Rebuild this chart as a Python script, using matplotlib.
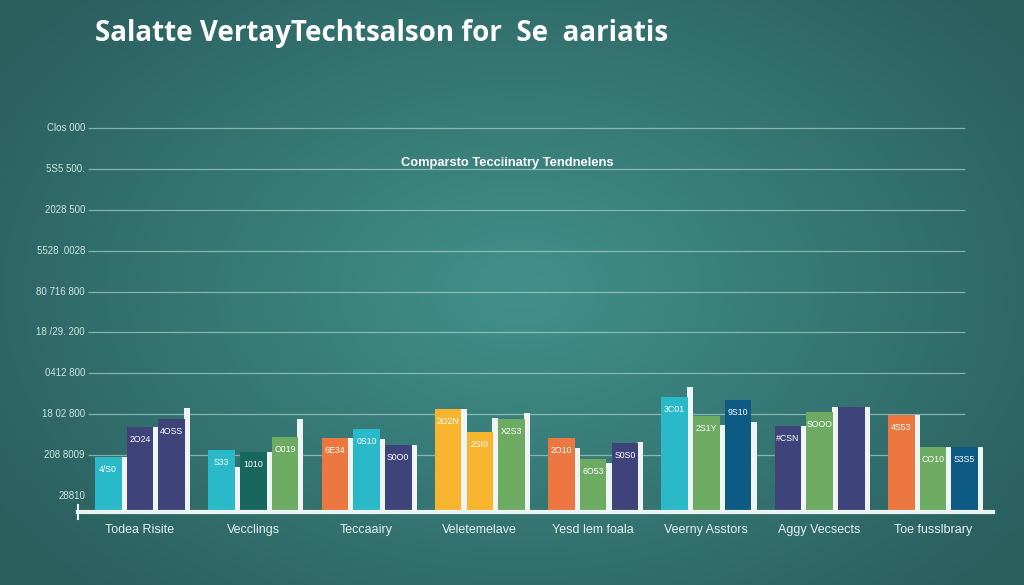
import numpy as np
import matplotlib
matplotlib.use("Agg")
import matplotlib.pyplot as plt
import matplotlib.transforms as mtransforms

# ---- data ----
title = "Salatte VertayTechtsalson for  Se  aariatis"
subtitle = "Comparsto Tecciinatry Tendnelens"
categories = ["Todea Risite", "Vecclings", "Teccaairy", "Veletemelave",
              "Yesd lem foala", "Veerny Asstors", "Aggy Vecsects", "Toe fusslbrary"]
ytick_vals = [400, 1400, 2400, 3400, 4400, 5400, 6400, 7400, 8400, 9400]
ytick_labels = ["28810", "208 8009", "18 02 800", "0412 800", "18 /29. 200",
                "80 716 800", "5528 .0028", "2028 500", "5S5 500.", "Clos 000"]

# three bars per group
bar_values = [
    [1350, 2080, 2280],
    [1520, 1470, 1840],
    [1810, 2030, 1640],
    [2520, 1960, 2280],
    [1810, 1300, 1690],
    [2820, 2350, 2750],
    [2110, 2450, 2570],
    [2380, 1590, 1590],
]
edge_values = [
    [1350, 2080, 2550],
    [1100, 1470, 2280],
    [1810, 1790, 1640],
    [2520, 2300, 2430],
    [1570, 1200, 1720],
    [3060, 2130, 2210],
    [2110, 2570, 2570],
    [2380, 1590, 1590],
]
bar_texts = [
    ["4/S0", "2O24", "4OSS"],
    ["S33", "1010", "O019"],
    ["6E34", "0S10", "S0O0"],
    ["2O2N", "2SI0", "X2S3"],
    ["2O10", "6O53", "S0S0"],
    ["3C01", "2S1Y", "9S10"],
    ["#CSN", "SOOO", ""],
    ["4S53", "CO10", "S3S5"],
]
CYAN, NAVY, TEAL, GREEN = "#29b9c9", "#3e4479", "#17675f", "#6dab62"
ORANGE, YELLOW, BLUE = "#ec7740", "#f7b52f", "#0d5a84"
bar_colors = [
    [CYAN, NAVY, NAVY],
    [CYAN, TEAL, GREEN],
    [ORANGE, CYAN, NAVY],
    [YELLOW, YELLOW, GREEN],
    [ORANGE, GREEN, NAVY],
    [CYAN, GREEN, BLUE],
    [NAVY, GREEN, NAVY],
    [ORANGE, GREEN, BLUE],
]

W, H = 1024, 585
fig = plt.figure(figsize=(W / 100, H / 100), dpi=100)

# background radial gradient
bg = fig.add_axes([0, 0, 1, 1])
yy, xx = np.mgrid[0:H, 0:W]
d = np.sqrt(((xx - 520) / 620.0) ** 2 + ((yy - 290) / 420.0) ** 2)
d = np.clip(d, 0, 1)
c_in = np.array([0x42, 0x90, 0x8b]) / 255
c_out = np.array([0x2a, 0x5f, 0x5e]) / 255
img = c_in[None, None, :] * (1 - d[..., None]) + c_out[None, None, :] * d[..., None]
bg.imshow(img, aspect="auto", extent=[0, 1, 0, 1])
bg.axis("off")

# main axes: x from px 78 to 993, y baseline at px 512, top px 120
ax = fig.add_axes([78 / W, (H - 512) / H, 915 / W, 392 / H])
ax.set_facecolor("none")
ax.set_xlim(-0.547, 7.53)
ax.set_ylim(0, 392 / 40.8 * 1000)
ax.axis("off")

trans = mtransforms.blended_transform_factory(ax.transAxes, ax.transData)
ax.hlines(ytick_vals[1:], 10 / 915, 887 / 915, transform=trans,
          color="#a8d2cd", lw=0.9, alpha=0.7, zorder=1)
for v, lab in zip(ytick_vals, ytick_labels):
    ax.text(7 / 915, v, lab, transform=trans, ha="right", va="center",
            fontsize=7, color="#cfe4e1", family="Liberation Sans", clip_on=False)

step, width = 0.28, 0.235
for i in range(len(categories)):
    for j in range(3):
        x = i + (j - 1) * step
        # narrow white side strip on the right of each bar
        ax.bar(x + width / 2 - 0.01, edge_values[i][j], width=0.055, align="edge",
               color="#eef5f4", zorder=2)
        ax.bar(x, bar_values[i][j], width=width, color=bar_colors[i][j], zorder=3)
        ax.text(x, bar_values[i][j] - 300, bar_texts[i][j], ha="center", va="center",
                fontsize=6.3, color="white", family="Liberation Sans", zorder=4)
    ax.text(i, -440, categories[i], ha="center", va="center", fontsize=9,
            color="#e6f1ef", family="Liberation Sans", clip_on=False)

# baseline
ax.axhline(0, color="#eaf4f3", lw=3, zorder=5, clip_on=False)
ax.plot([0, 0], [-180, 180], transform=trans, color="#eaf4f3", lw=1.5, clip_on=False)

fig.text(95 / W, 1 - 34 / H, title, fontsize=20, fontweight="bold", color="white",
         family="Open Sans", va="center", ha="left")
fig.text(507 / W, 1 - 163 / H, subtitle, fontsize=9.3, fontweight="bold",
         color="white", family="Liberation Sans", va="center", ha="center")

fig.savefig("out.png", dpi=100)
